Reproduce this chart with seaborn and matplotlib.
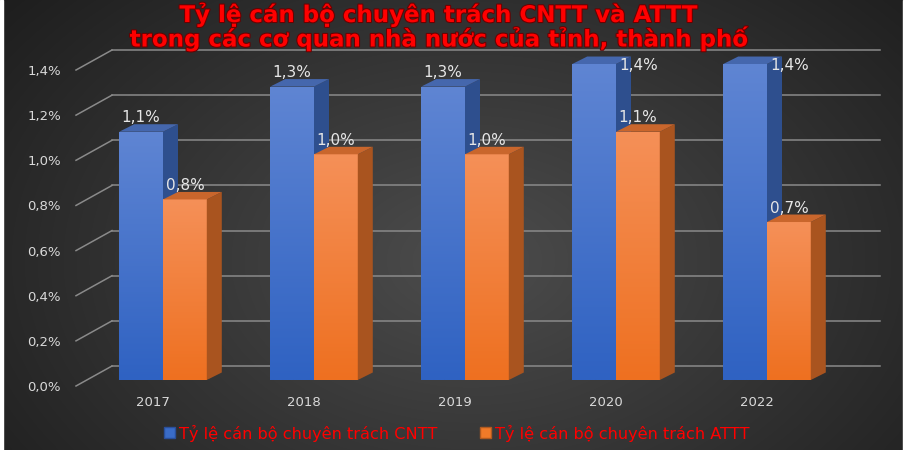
import numpy as np
import pandas as pd
import matplotlib
matplotlib.use('Agg')
import matplotlib.pyplot as plt
import matplotlib.patheffects as pe
import seaborn as sns
from matplotlib.patches import Polygon, Patch, Rectangle
from matplotlib import transforms

# Data
years = ['2017', '2018', '2019', '2020', '2022']
cntt = [1.1, 1.3, 1.3, 1.4, 1.4]
attt = [0.8, 1.0, 1.0, 1.1, 0.7]
series = ['Tỷ lệ cán bộ chuyên trách CNTT', 'Tỷ lệ cán bộ chuyên trách ATTT']
yticks = [0.0, 0.2, 0.4, 0.6, 0.8, 1.0, 1.2, 1.4]
ytick_labels = ['0,0%', '0,2%', '0,4%', '0,6%', '0,8%', '1,0%', '1,2%', '1,4%']
title = 'Tỷ lệ cán bộ chuyên trách CNTT và ATTT\ntrong các cơ quan nhà nước của tỉnh, thành phố'

df = pd.DataFrame({
    'Năm': years * 2,
    'Tỷ lệ': cntt + attt,
    'Chỉ tiêu': [series[0]] * len(years) + [series[1]] * len(years),
})

blue, orange = '#3a6cc8', '#f07a28'
front_top = {blue: '#5f85d3', orange: '#f59058'}
front_bot = {blue: '#2f62c2', orange: '#ee7020'}
side_col = {blue: '#2e4f8e', orange: '#a9541f'}
top_col = {blue: '#4567ad', orange: '#c9662c'}

W, H = 905, 450
fig = plt.figure(figsize=(W / 100, H / 100), dpi=100)

# dark radial background
bg = fig.add_axes([0, 0, 1, 1], zorder=-10)
yy, xx = np.mgrid[0:H, 0:W]
r = np.sqrt(((xx - 470) / 560) ** 2 + ((yy - 260) / 380) ** 2)
shade = np.clip(0.30 - 0.17 * r, 0.11, 0.30)
bg.imshow(np.dstack([shade] * 3), extent=(0, W, H, 0), aspect='auto')
bg.add_patch(Rectangle((0, 0), 3, H, color='white'))
bg.add_patch(Rectangle((W - 2, 0), 2, H, color='white'))
bg.set_xlim(0, W)
bg.set_ylim(H, 0)
bg.axis('off')

# main axes (pixel layout)
ax_l, ax_r, ax_t, ax_b = 75, 880, 45, 390
ax = fig.add_axes([ax_l / W, (H - ax_b) / H, (ax_r - ax_l) / W, (ax_b - ax_t) / H])
ax.set_facecolor('none')

sns.barplot(data=df, x='Năm', y='Tỷ lệ', hue='Chỉ tiêu', palette=[blue, orange],
            width=0.58, saturation=1, legend=False, ax=ax)
bars = [p for p in ax.patches if isinstance(p, Rectangle)]

ppx = 151.0      # pixels per category
ppy = 225.7      # pixels per 1 %
x0_px, y0_px = 163, 380
ax.set_xlim((ax_l - x0_px) / ppx, (ax_r - x0_px) / ppx)
ax.set_ylim((y0_px - ax_b) / ppy, (y0_px - ax_t) / ppy)

dx, dy = 15 / ppx, 7.5 / ppy

# gridlines: back wall + left perspective lines
grid_c = '#8a8a8a'
for v in yticks:
    yb = v + 14 / ppy
    ax.plot([(112 - x0_px) / ppx, (ax_r - x0_px) / ppx], [yb, yb], color=grid_c,
            lw=1.1, zorder=1, clip_on=False)
    ax.plot([(76 - x0_px) / ppx, (112 - x0_px) / ppx], [v - 6 / ppy, yb], color=grid_c,
            lw=1.1, zorder=1, clip_on=False)

# 3D faces on top of seaborn bars
grad = np.linspace(0, 1, 256).reshape(-1, 1)
for p in bars:
    fc = matplotlib.colors.to_hex(p.get_facecolor())
    key = blue if fc == blue else orange
    z = 3 if key == blue else 5
    x, w, h = p.get_x(), p.get_width(), p.get_height()
    p.set_zorder(z)
    p.set_edgecolor('none')
    cmap = matplotlib.colors.LinearSegmentedColormap.from_list('g', [front_top[key], front_bot[key]])
    im = ax.imshow(grad, cmap=cmap, extent=(x, x + w, 0, h), aspect='auto', zorder=z + 0.1)
    im.set_clip_path(p)
    ax.add_patch(Polygon([(x + w, 0), (x + w + dx, dy), (x + w + dx, h + dy), (x + w, h)],
                         closed=True, color=side_col[key], zorder=z + 0.2, lw=0))
    ax.add_patch(Polygon([(x, h), (x + w, h), (x + w + dx, h + dy), (x + dx, h + dy)],
                         closed=True, color=top_col[key], zorder=z + 0.3, lw=0))
    label = f'{h:.1f}'.replace('.', ',') + '%'
    if h >= 1.35:
        ax.text(x + w + 3 / ppx, h - 1 / ppy, label, ha='left', va='center',
                color='#e6e6e6', fontsize=11, zorder=10)
    else:
        ax.text(x + w / 2, h + 14 / ppy, label, ha='center', va='center',
                color='#e6e6e6', fontsize=11, zorder=10)

ax.set_xlim((ax_l - x0_px) / ppx, (ax_r - x0_px) / ppx)
ax.set_ylim((y0_px - ax_b) / ppy, (y0_px - ax_t) / ppy)

ax.set_yticks(yticks, ytick_labels)
ax.tick_params(axis='y', length=0, pad=10, labelcolor='#d9d9d9', labelsize=9.5)
ax.tick_params(axis='x', length=0, pad=4, labelcolor='#d9d9d9', labelsize=9.5)
for lab in ax.get_yticklabels():
    lab.set_transform(lab.get_transform() + transforms.ScaledTranslation(0, -6 / 100, fig.dpi_scale_trans))
for lab in ax.get_xticklabels():
    lab.set_transform(lab.get_transform() + transforms.ScaledTranslation(-10 / 100, 0, fig.dpi_scale_trans))
ax.set_xlabel('')
ax.set_ylabel('')
for s in ax.spines.values():
    s.set_visible(False)

# title (one two-line text)
title_fx = [pe.withStroke(linewidth=1.5, foreground='#6a0000')]
fig.text(0.484, 1 - 2 / H, title, ha='center', va='top', multialignment='center',
         linespacing=0.95, color='#ff0000', fontsize=16.5, fontweight='bold',
         path_effects=title_fx, zorder=20)

# legend
handles = [Patch(facecolor=blue, edgecolor='#2a4f9a', label=series[0]),
           Patch(facecolor=orange, edgecolor='#b05a20', label=series[1])]
leg = fig.legend(handles=handles, loc='center', bbox_to_anchor=(0.505, 1 - 433 / H), ncol=2,
                 frameon=False, fontsize=11.6, handlelength=0.68, handleheight=0.68,
                 handletextpad=0.25, columnspacing=2.65)
for t in leg.get_texts():
    t.set_color('#ff0000')

fig.savefig('out.png', dpi=100)
